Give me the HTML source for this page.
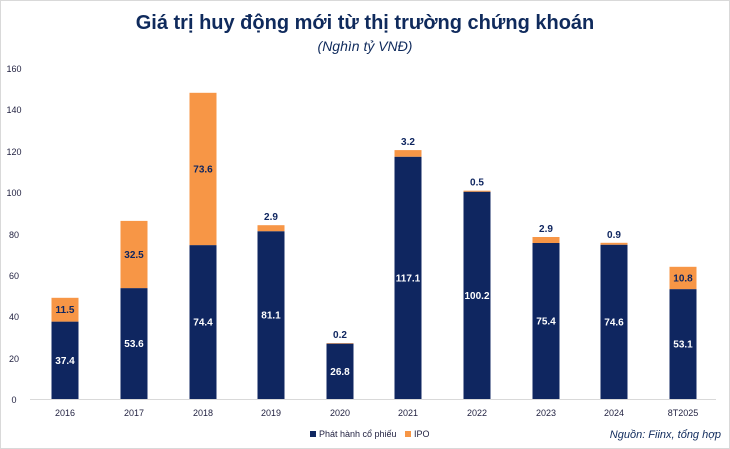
<!DOCTYPE html>
<html><head><meta charset="utf-8"><style>
body{margin:0;background:#fff}
svg{display:block}
text{font-family:"Liberation Sans",sans-serif}
</style></head><body>
<svg width="730" height="449" viewBox="0 0 730 449" xmlns="http://www.w3.org/2000/svg">
<rect x="0.5" y="0.5" width="729" height="448" fill="#fff" stroke="#d9d9d9"/>
<text x="365" y="29" text-anchor="middle" font-size="20" font-weight="bold" fill="#0f2a5c">Giá trị huy động mới từ thị trường chứng khoán</text>
<text x="365" y="51" text-anchor="middle" font-size="14" font-style="italic" fill="#0f2a5c">(Nghìn tỷ VNĐ)</text>
<g font-size="9" fill="#1f1f3f" text-anchor="middle">
<text x="14" y="72">160</text><text x="14" y="113">140</text><text x="14" y="155">120</text>
<text x="14" y="196">100</text><text x="14" y="238">80</text><text x="14" y="279">60</text>
<text x="14" y="320">40</text><text x="14" y="362">20</text><text x="14" y="403">0</text>
</g>
<line x1="30" y1="399.5" x2="716" y2="399.5" stroke="#d9d9d9"/>
<g fill="#0f2660">
<rect x="51.5" y="321.6" width="27" height="77.4"/>
<rect x="120.5" y="288.1" width="27" height="110.9"/>
<rect x="189.5" y="245.1" width="27" height="153.9"/>
<rect x="257.5" y="231.2" width="27" height="167.8"/>
<rect x="326.5" y="343.6" width="27" height="55.4"/>
<rect x="394.5" y="156.7" width="27" height="242.3"/>
<rect x="463.5" y="191.7" width="27" height="207.3"/>
<rect x="532.5" y="243.0" width="27" height="156.0"/>
<rect x="600.5" y="244.7" width="27" height="154.3"/>
<rect x="669.5" y="289.1" width="27" height="109.9"/>
</g>
<g fill="#f79646">
<rect x="51.5" y="297.8" width="27" height="23.8"/>
<rect x="120.5" y="220.9" width="27" height="67.2"/>
<rect x="189.5" y="92.8" width="27" height="152.3"/>
<rect x="257.5" y="225.2" width="27" height="6"/>
<rect x="326.5" y="343.1" width="27" height="0.5"/>
<rect x="394.5" y="150.1" width="27" height="6.6"/>
<rect x="463.5" y="190.7" width="27" height="1"/>
<rect x="532.5" y="237.0" width="27" height="6"/>
<rect x="600.5" y="242.8" width="27" height="1.9"/>
<rect x="669.5" y="266.8" width="27" height="22.3"/>
</g>
<g font-size="10" font-weight="bold" fill="#fff" text-anchor="middle">
<text x="65" y="364">37.4</text><text x="134" y="347">53.6</text><text x="203" y="325.5">74.4</text>
<text x="271" y="318.6">81.1</text><text x="340" y="374.8">26.8</text><text x="408" y="281.4">117.1</text>
<text x="477" y="298.8">100.2</text><text x="546" y="324.5">75.4</text><text x="614" y="325.3">74.6</text>
<text x="683" y="347.6">53.1</text>
</g>
<g font-size="10" font-weight="bold" fill="#0f2660" text-anchor="middle">
<text x="65" y="313.2">11.5</text><text x="134" y="258">32.5</text><text x="203" y="172.4">73.6</text>
<text x="271" y="220">2.9</text><text x="340" y="338">0.2</text><text x="408" y="145">3.2</text>
<text x="477" y="185.7">0.5</text><text x="546" y="232">2.9</text><text x="614" y="237.8">0.9</text>
<text x="683" y="281.5">10.8</text>
</g>
<g font-size="9" fill="#1f1f3f" text-anchor="middle">
<text x="65" y="416">2016</text><text x="134" y="416">2017</text><text x="203" y="416">2018</text>
<text x="271" y="416">2019</text><text x="340" y="416">2020</text><text x="408" y="416">2021</text>
<text x="477" y="416">2022</text><text x="546" y="416">2023</text><text x="614" y="416">2024</text>
<text x="683" y="416">8T2025</text>
</g>
<rect x="310" y="431" width="6" height="6" fill="#0f2660"/>
<text x="319" y="437" font-size="9" fill="#1f1f3f">Phát hành cổ phiếu</text>
<rect x="405" y="431" width="6" height="6" fill="#f79646"/>
<text x="414" y="437" font-size="9" fill="#1f1f3f">IPO</text>
<text x="721" y="438" text-anchor="end" font-size="11" font-style="italic" fill="#0f2a5c">Nguồn: Fiinx, tổng hợp</text>
</svg>
</body></html>
